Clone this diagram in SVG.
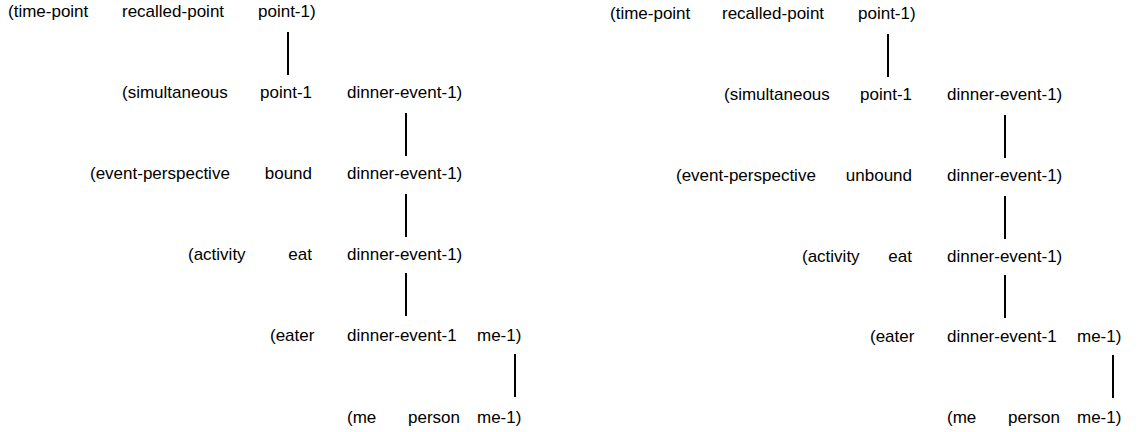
<svg xmlns="http://www.w3.org/2000/svg" width="1144" height="432" viewBox="0 0 1144 432">
  <style>
    text { font-family: "Liberation Sans", Arial, sans-serif; font-size: 17px; fill: #000; }
    .end { text-anchor: end; }
    .link { stroke: #000; stroke-width: 2; fill: none; }
  </style>
  <rect width="1144" height="432" fill="#fff"/>

  <!-- left tree: bound reading -->
  <g id="left-time-point"><text x="8" y="17">(time-point</text><text x="122" y="17">recalled-point</text><text x="258" y="17">point-1)</text></g>
  <g id="left-simultaneous"><text x="122" y="98">(simultaneous</text><text x="312" y="98" class="end">point-1</text><text x="347" y="98">dinner-event-1)</text></g>
  <g id="left-event-perspective"><text x="90" y="179">(event-perspective</text><text x="312" y="179" class="end">bound</text><text x="347" y="179">dinner-event-1)</text></g>
  <g id="left-activity"><text x="188" y="260">(activity</text><text x="312" y="260" class="end">eat</text><text x="347" y="260">dinner-event-1)</text></g>
  <g id="left-eater"><text x="270" y="341">(eater</text><text x="347" y="341">dinner-event-1</text><text x="477" y="341">me-1)</text></g>
  <g id="left-me"><text x="347" y="423">(me</text><text x="408" y="423">person</text><text x="477" y="423">me-1)</text></g>

  <!-- right tree: unbound reading -->
  <g id="right-time-point"><text x="610" y="19">(time-point</text><text x="722" y="19">recalled-point</text><text x="858" y="19">point-1)</text></g>
  <g id="right-simultaneous"><text x="724" y="100">(simultaneous</text><text x="912" y="100" class="end">point-1</text><text x="947" y="100">dinner-event-1)</text></g>
  <g id="right-event-perspective"><text x="676" y="181">(event-perspective</text><text x="912" y="181" class="end">unbound</text><text x="947" y="181">dinner-event-1)</text></g>
  <g id="right-activity"><text x="802" y="262">(activity</text><text x="912" y="262" class="end">eat</text><text x="947" y="262">dinner-event-1)</text></g>
  <g id="right-eater"><text x="870" y="342">(eater</text><text x="947" y="342">dinner-event-1</text><text x="1077" y="342">me-1)</text></g>
  <g id="right-me"><text x="947" y="423">(me</text><text x="1008" y="423">person</text><text x="1077" y="423">me-1)</text></g>

  <g id="connectors">
    <line class="link" x1="288" y1="32" x2="288" y2="75"/>
    <line class="link" x1="406" y1="113" x2="406" y2="156"/>
    <line class="link" x1="406" y1="194" x2="406" y2="237"/>
    <line class="link" x1="406" y1="273" x2="406" y2="316"/>
    <line class="link" x1="515" y1="354" x2="515" y2="397"/>

    <line class="link" x1="888" y1="34" x2="888" y2="77"/>
    <line class="link" x1="1005" y1="115" x2="1005" y2="158"/>
    <line class="link" x1="1005" y1="196" x2="1005" y2="239"/>
    <line class="link" x1="1005" y1="275" x2="1005" y2="318"/>
    <line class="link" x1="1113" y1="355" x2="1113" y2="398"/>
  </g>
</svg>
